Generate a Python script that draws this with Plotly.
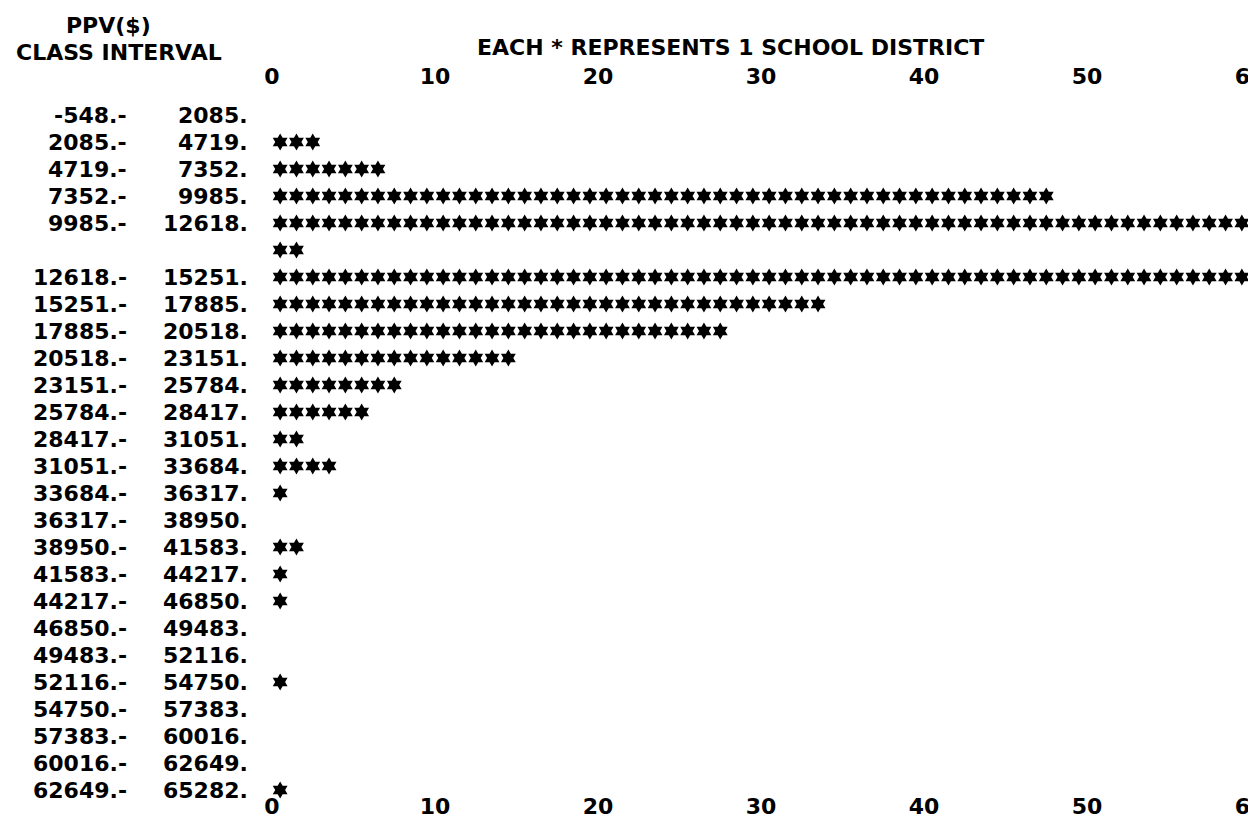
import plotly.graph_objects as go

# PPV($) class intervals and number of school districts falling in each
lower = [-548, 2085, 4719, 7352, 9985, 12618, 15251, 17885, 20518, 23151,
         25784, 28417, 31051, 33684, 36317, 38950, 41583, 44217, 46850,
         49483, 52116, 54750, 57383, 60016, 62649]
upper = [2085, 4719, 7352, 9985, 12618, 15251, 17885, 20518, 23151, 25784,
         28417, 31051, 33684, 36317, 38950, 41583, 44217, 46850, 49483,
         52116, 54750, 57383, 60016, 62649, 65282]
districts = [0, 3, 7, 48, 63, 61, 34, 28, 15, 8, 6, 2, 4, 1, 0, 2, 1, 1, 0,
             0, 1, 0, 0, 0, 1]
scale = [0, 10, 20, 30, 40, 50, 60]

PER_LINE = 61          # stars that fit on one printed line
W, H = 1256, 818
COL, ROW = 16.3, 27    # printer character grid, px
X0, Y0 = 264, 107      # pixel of count 0 and of the first line
T, B = 81, 35
FONT = dict(family="DejaVu Sans", size=22, color="black", weight="bold")

# one star per district, wrapping long rows onto the next line like the printout
xs, ys, line_of = [], [], []
line = 0
for n in districts:
    line_of.append(line)
    left = n
    while True:
        k = min(left, PER_LINE)
        xs += [j + 0.5 for j in range(k)]
        ys += [line] * k
        left -= k
        if left <= 0:
            break
        line += 1
    line += 1

fig = go.Figure()
fig.add_trace(go.Scatter(
    x=xs, y=ys, mode="markers", cliponaxis=False, showlegend=False,
    marker=dict(symbol="hexagram", size=13, color="black", line=dict(width=0)),
))
fig.add_trace(go.Scatter(x=[], y=[], xaxis="x2", showlegend=False))


def px_x(p):
    return (p - X0) / COL


def line_paper(ln):
    return (H - B - (Y0 + ROW * ln)) / (H - T - B)


# class interval labels, two right-aligned columns
for lo, hi, ln in zip(lower, upper, line_of):
    fig.add_annotation(x=px_x(121), y=ln, xref="x", yref="y", text=f"{lo}.-",
                       xanchor="right", yanchor="middle", showarrow=False, font=FONT)
    fig.add_annotation(x=px_x(242), y=ln, xref="x", yref="y", text=f"{hi}.",
                       xanchor="right", yanchor="middle", showarrow=False, font=FONT)

# header block above the scale
fig.add_annotation(x=56 / W, y=line_paper(-3.3), xref="paper", yref="paper",
                   text="PPV($)", xanchor="left", yanchor="middle",
                   showarrow=False, font=FONT)
fig.add_annotation(x=6 / W, y=line_paper(-2.3), xref="paper", yref="paper",
                   text="CLASS INTERVAL", xanchor="left", yanchor="middle",
                   showarrow=False, font=FONT)
fig.add_annotation(x=722 / W, y=line_paper(-2.5), xref="paper", yref="paper",
                   text="EACH * REPRESENTS 1 SCHOOL DISTRICT", xanchor="center",
                   yanchor="middle", showarrow=False, font=FONT)

axis_common = dict(range=[-X0 / COL, (W - X0) / COL], tickvals=scale,
                   showgrid=False, zeroline=False, showline=False, ticks="",
                   tickfont=FONT, ticklabeloverflow="allow")
fig.update_layout(
    width=W, height=H, autosize=False,
    margin=dict(l=0, r=0, t=T, b=B),
    paper_bgcolor="white", plot_bgcolor="white",
    xaxis=dict(side="bottom", **axis_common),
    xaxis2=dict(side="top", overlaying="x", **axis_common),
    yaxis=dict(range=[(H - B - Y0) / ROW, (T - Y0) / ROW], visible=False),
)

fig.write_html("out.html")
